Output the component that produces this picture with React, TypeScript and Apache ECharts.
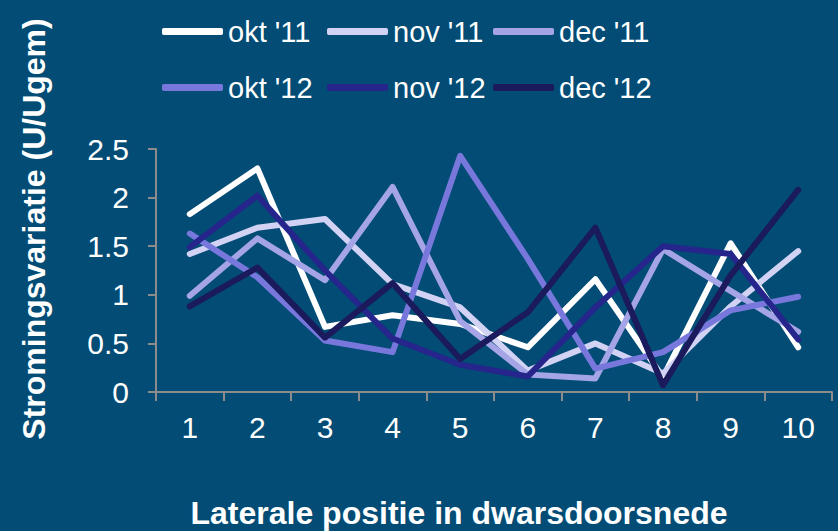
import React, { useEffect, useRef } from "react";
import * as echarts from "echarts";

const categories = ["1", "2", "3", "4", "5", "6", "7", "8", "9", "10"];
const seriesNames = ["okt '11", "nov '11", "dec '11", "okt '12", "nov '12", "dec '12"];
const okt11 = [1.83, 2.3, 0.67, 0.79, 0.7, 0.46, 1.16, 0.15, 1.53, 0.46];
const nov11 = [1.42, 1.69, 1.78, 1.11, 0.87, 0.22, 0.5, 0.19, 0.88, 1.45];
const dec11 = [0.99, 1.58, 1.15, 2.11, 0.73, 0.18, 0.14, 1.47, 1.04, 0.62];
const okt12 = [1.63, 1.18, 0.53, 0.41, 2.43, 1.37, 0.24, 0.41, 0.84, 0.98];
const nov12 = [1.49, 2.02, 1.25, 0.55, 0.28, 0.16, 0.87, 1.5, 1.42, 0.54];
const dec12 = [0.88, 1.28, 0.56, 1.12, 0.34, 0.82, 1.69, 0.07, 1.2, 2.08];
const seriesData = [okt11, nov11, dec11, okt12, nov12, dec12];
const colors = ["#ffffff", "#d2d2f4", "#a4a4e6", "#7878dc", "#25258c", "#1a1a5c"];

const FONT = "'Liberation Sans', Arial, sans-serif";

export default function App() {
  const ref = useRef<HTMLDivElement>(null);
  useEffect(() => {
    if (!ref.current) return;
    const chart = echarts.init(ref.current, null, { renderer: "svg" });
    const legendLeft = [162, 327, 493];
    const legendTop = [17, 73];
    const legends = seriesNames.map((n, i) => ({
      data: [n],
      left: legendLeft[i % 3],
      top: legendTop[Math.floor(i / 3)],
      padding: 0,
      icon: "roundRect",
      itemWidth: 61,
      itemHeight: 7,
      textStyle: { color: "#ffffff", fontSize: 29, fontFamily: FONT },
    }));
    chart.setOption({
      animation: false,
      backgroundColor: "#024c75",
      legend: legends,
      grid: { left: 156, right: 6, top: 149, bottom: 139, containLabel: false },
      xAxis: {
        type: "category",
        data: categories,
        boundaryGap: true,
        axisLine: { show: true, lineStyle: { color: "#8c8c8c", width: 2 } },
        axisTick: { show: true, length: 9, lineStyle: { color: "#8c8c8c", width: 2 } },
        axisLabel: { color: "#ffffff", fontSize: 30, fontFamily: FONT, margin: 20 },
        splitLine: { show: false },
      },
      yAxis: {
        type: "value",
        min: 0,
        max: 2.5,
        interval: 0.5,
        axisLine: { show: true, lineStyle: { color: "#8c8c8c", width: 2 } },
        axisTick: { show: true, length: 8, lineStyle: { color: "#8c8c8c", width: 2 } },
        axisLabel: { color: "#ffffff", fontSize: 30, fontFamily: FONT, margin: 27 },
        splitLine: { show: false },
      },
      graphic: [
        {
          type: "text",
          x: 34,
          y: 229,
          rotation: Math.PI / 2,
          style: {
            text: "Stromingsvariatie (U/Ugem)",
            fill: "#ffffff",
            font: `bold 32px ${FONT}`,
            textAlign: "center",
            textVerticalAlign: "middle",
          },
        },
        {
          type: "text",
          x: 459,
          y: 513,
          style: {
            text: "Laterale positie in dwarsdoorsnede",
            fill: "#ffffff",
            font: `bold 32px ${FONT}`,
            textAlign: "center",
            textVerticalAlign: "middle",
          },
        },
      ],
      series: seriesNames.map((n, i) => ({
        name: n,
        type: "line",
        data: seriesData[i],
        showSymbol: false,
        symbol: "none",
        color: colors[i],
        lineStyle: { color: colors[i], width: 6, cap: "round", join: "round" },
      })),
    });
    return () => chart.dispose();
  }, []);
  return <div ref={ref} style={{ width: 838, height: 531, position: "absolute", left: 0, top: 0 }} />;
}
